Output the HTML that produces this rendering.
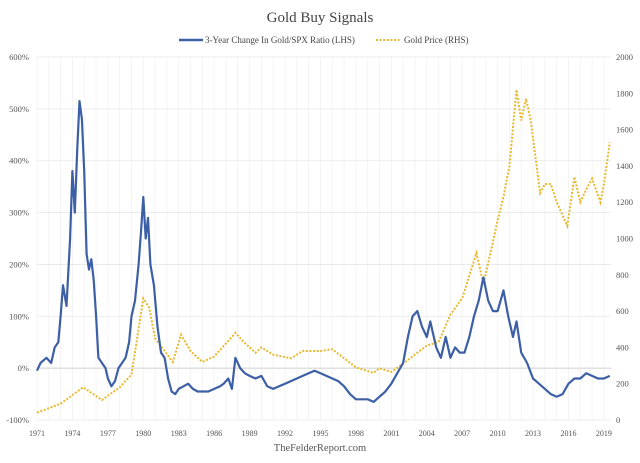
<!DOCTYPE html>
<html><head><meta charset="utf-8">
<style>
body{margin:0;background:#fff;}
svg{display:block;font-family:"Liberation Serif",serif;}
</style></head>
<body>
<svg id="chart" width="640" height="463">
<text x="320" y="22" text-anchor="middle" font-size="15" fill="#444">Gold Buy Signals</text>
<g>
<g>
<line x1="179" y1="40" x2="203" y2="40" stroke="#3c5fa6" stroke-width="2.5"/>
<text x="205" y="43" font-size="9" fill="#444">3-Year Change In Gold/SPX Ratio (LHS)</text>
</g>
<g>
<line x1="376" y1="40" x2="400" y2="40" stroke="#e8b830" stroke-width="2" stroke-dasharray="2,1.6"/>
<text x="404" y="43" font-size="9" fill="#444">Gold Price (RHS)</text>
</g>
</g>
<g id="grid"></g>
<g id="axes"></g>
<g id="series"></g>
<text x="320" y="451" text-anchor="middle" font-size="10.5" fill="#555">TheFelderReport.com</text>
</svg>
<script>
const ratioYears=[1971.0,1971.3,1971.8,1972.2,1972.5,1972.8,1973.0,1973.2,1973.5,1973.8,1974.0,1974.2,1974.4,1974.6,1974.8,1975.0,1975.2,1975.4,1975.6,1975.8,1976.0,1976.2,1976.5,1976.8,1977.0,1977.3,1977.6,1977.9,1978.2,1978.5,1978.8,1979.0,1979.3,1979.6,1979.8,1980.0,1980.2,1980.4,1980.6,1980.9,1981.2,1981.5,1981.8,1982.1,1982.4,1982.7,1983.0,1983.4,1983.8,1984.2,1984.6,1985.0,1985.5,1986.0,1986.5,1986.8,1987.2,1987.5,1987.8,1988.2,1988.6,1989.0,1989.5,1990.0,1990.5,1991.0,1991.5,1992.0,1992.5,1993.0,1993.5,1994.0,1994.5,1995.0,1995.5,1996.0,1996.5,1997.0,1997.5,1998.0,1998.5,1999.0,1999.5,2000.0,2000.5,2001.0,2001.5,2002.0,2002.4,2002.8,2003.2,2003.6,2004.0,2004.3,2004.8,2005.2,2005.6,2006.0,2006.4,2006.8,2007.2,2007.6,2008.0,2008.4,2008.8,2009.2,2009.6,2010.0,2010.5,2010.9,2011.3,2011.6,2012.0,2012.5,2013.0,2013.5,2014.0,2014.5,2015.0,2015.5,2016.0,2016.5,2017.0,2017.5,2018.0,2018.5,2019.0,2019.5];
const ratioValues=[-5,10,20,10,40,50,100,160,120,250,380,300,420,515,480,380,220,190,210,170,100,20,10,0,-20,-35,-25,0,10,20,50,100,130,200,260,330,250,290,200,160,80,30,20,-20,-45,-50,-40,-35,-30,-40,-45,-45,-45,-40,-35,-30,-20,-40,20,0,-10,-15,-20,-15,-35,-40,-35,-30,-25,-20,-15,-10,-5,-10,-15,-20,-25,-35,-50,-60,-60,-60,-65,-55,-45,-30,-10,10,60,100,110,80,60,90,40,20,60,20,40,30,30,60,100,130,175,130,110,110,150,100,60,90,30,10,-20,-30,-40,-50,-55,-50,-30,-20,-20,-10,-15,-20,-20,-15];
const goldYears=[1971,1973,1974.9,1976.5,1978,1979,1980.0,1980.5,1981,1982.5,1983.2,1984,1985,1986,1987.8,1988.5,1989.5,1990,1991,1992.5,1993.5,1995,1996,1997,1998,1999.5,2000,2001,2002,2003,2004,2005,2006,2007,2008.2,2008.8,2009.5,2010,2010.5,2011.0,2011.6,2012.0,2012.4,2012.8,2013.3,2013.6,2014,2014.5,2015,2015.9,2016.5,2017,2017.5,2018,2018.7,2019,2019.5];
const goldValues=[40,90,180,110,180,250,670,620,450,320,470,380,320,350,480,430,370,400,360,340,380,380,390,340,290,260,285,265,310,360,410,430,580,670,920,750,950,1100,1230,1400,1820,1650,1770,1650,1400,1250,1300,1300,1200,1070,1340,1200,1270,1330,1200,1300,1530];
const leftTicks=[-100,0,100,200,300,400,500,600];
const leftTickLabels=["-100%","0%","100%","200%","300%","400%","500%","600%"];
const rightTicks=[0,200,400,600,800,1000,1200,1400,1600,1800,2000];
const xTickYears=[1971,1974,1977,1980,1983,1986,1989,1992,1995,1998,2001,2004,2007,2010,2013,2016,2019];

const X0=37,X1=611,Y0=420,Y1=57;
const yearMin=1971,yearMax=2019.6;
function xs(y){return X0+(y-yearMin)/(yearMax-yearMin)*(X1-X0);}
function yl(v){return Y0-(v+100)/700*(Y0-Y1);}
function yr(v){return Y0-v/2000*(Y0-Y1);}
const NS="http://www.w3.org/2000/svg";
function mk(tag,attrs,parent){const e=document.createElementNS(NS,tag);for(const k in attrs)e.setAttribute(k,attrs[k]);parent.appendChild(e);return e;}
const grid=document.getElementById('grid'),axes=document.getElementById('axes'),series=document.getElementById('series');
for(let yy=1971;yy<=2019;yy++){
  const l=mk('line',{x1:xs(yy),x2:xs(yy),y1:Y1,y2:Y0,stroke:'#f0f0f0','stroke-width':0.7},grid);
  
  
}
leftTicks.forEach((t,i)=>{
  const l=mk('line',{x1:X0,x2:X1,y1:yl(t),y2:yl(t),stroke:t===0?'#dcdcdc':'#e8e8e8','stroke-width':t===0?1.4:0.8},grid);
  
  
  const tx=mk('text',{x:29,y:yl(t)+3,'text-anchor':'end','font-size':8.5,fill:'#555'},axes);
  tx.textContent=leftTickLabels[i];
  
  
});
rightTicks.forEach(t=>{
  const tx=mk('text',{x:616,y:yr(t)+3,'font-size':8.5,fill:'#555'},axes);
  tx.textContent=String(t);
  
  
});
xTickYears.forEach(t=>{
  const tx=mk('text',{x:xs(t),y:436,'text-anchor':'middle','font-size':8,fill:'#555'},axes);
  tx.textContent=String(t);
  
  
});
const gp=mk('path',{d:goldYears.map((y,i)=>(i?'L':'M')+xs(y).toFixed(1)+','+yr(goldValues[i]).toFixed(1)).join(''),fill:'none',stroke:'#e8b830','stroke-width':2,'stroke-dasharray':'2,1.6'},series);


const rp=mk('path',{d:ratioYears.map((y,i)=>(i?'L':'M')+xs(y).toFixed(1)+','+yl(ratioValues[i]).toFixed(1)).join(''),fill:'none',stroke:'#3c5fa6','stroke-width':2.2,'stroke-linejoin':'round'},series);


</script>
</body></html>
